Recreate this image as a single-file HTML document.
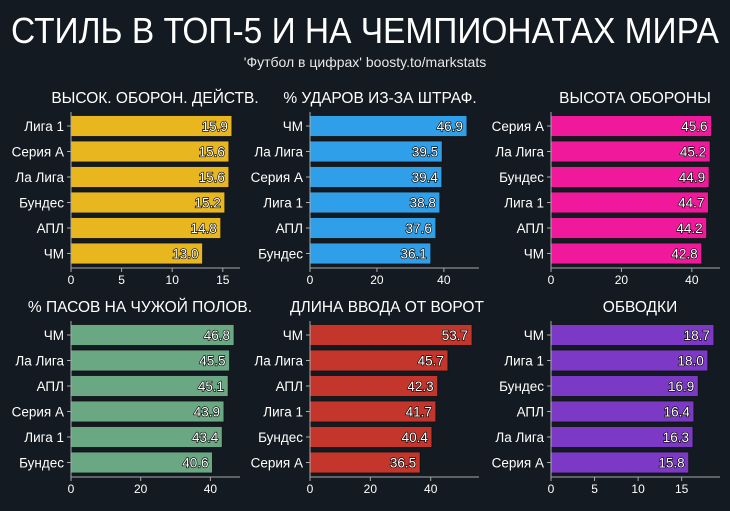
<!DOCTYPE html>
<html><head><meta charset="utf-8"><style>
body{margin:0;background:#131a21;}
svg{display:block;font-family:"Liberation Sans","DejaVu Sans",sans-serif;}
</style></head><body>
<svg id="c" width="730" height="511" viewBox="0 0 730 511">
<rect width="730" height="511" fill="#131a21"/>
<text x="365" y="43" text-anchor="middle" font-size="36" fill="#fff" textLength="708" lengthAdjust="spacingAndGlyphs">СТИЛЬ В ТОП-5 И НА ЧЕМПИОНАТАХ МИРА</text>
<text x="365" y="67" text-anchor="middle" font-size="14" fill="#e8e8e8">'Футбол в цифрах' boosty.to/markstats</text>
</svg>
<script>
const titles=["ВЫСОК. ОБОРОН. ДЕЙСТВ.","% УДАРОВ ИЗ-ЗА ШТРАФ.","ВЫСОТА ОБОРОНЫ","% ПАСОВ НА ЧУЖОЙ ПОЛОВ.","ДЛИНА ВВОДА ОТ ВОРОТ","ОБВОДКИ"];
const cats1=["Лига 1","Серия А","Ла Лига","Бундес","АПЛ","ЧМ"];
const vals1=[15.9,15.6,15.6,15.2,14.8,13.0];
const cats2=["ЧМ","Ла Лига","Серия А","Лига 1","АПЛ","Бундес"];
const vals2=[46.9,39.5,39.4,38.8,37.6,36.1];
const cats3=["Серия А","Ла Лига","Бундес","Лига 1","АПЛ","ЧМ"];
const vals3=[45.6,45.2,44.9,44.7,44.2,42.8];
const cats4=["ЧМ","Ла Лига","АПЛ","Серия А","Лига 1","Бундес"];
const vals4=[46.8,45.5,45.1,43.9,43.4,40.6];
const cats5=["ЧМ","Ла Лига","АПЛ","Лига 1","Бундес","Серия А"];
const vals5=[53.7,45.7,42.3,41.7,40.4,36.5];
const cats6=["ЧМ","Лига 1","Бундес","АПЛ","Ла Лига","Серия А"];
const vals6=[18.7,18.0,16.9,16.4,16.3,15.8];
const ticks1=[0,5,10,15], ticks2=[0,20,40], ticks3=[0,20,40], ticks4=[0,20,40], ticks5=[0,20,40], ticks6=[0,5,10,15];
const xmax=[16.7,50.5,48,48.5,56,19.4];
const cats=[cats1,cats2,cats3,cats4,cats5,cats6];
const vals=[vals1,vals2,vals3,vals4,vals5,vals6];
const ticks=[ticks1,ticks2,ticks3,ticks4,ticks5,ticks6];
const colors=["#e8b71f","#2f9fe9","#f0189b","#6aa783","#c4352b","#7b39c6"];
const titleX=[155,380,635,140,387,640];
const svg=document.getElementById('c');
const NS="http://www.w3.org/2000/svg";
function mk(t,a,p){const e=document.createElementNS(NS,t);for(const k in a)e.setAttribute(k,a[k]);(p||svg).appendChild(e);return e;}
const colX=[71,310,551], rowTop=[114,323], W=[170,170,170];
for(let p=0;p<6;p++){
  const col=p%3,row=Math.floor(p/3);
  const x0=colX[col], x1=x0+W[col]-1;
  const sx=v=>x0+v/xmax[p]*(x1-x0);
  const y0=rowTop[row], step=25.5, bh=21;
  const yc=i=>y0+12+i*step;
  const yAxis=y0+154;
  const g=mk('g',{});
  
  
  const t=mk('text',{x:titleX[p],y:y0-11,'text-anchor':'middle','font-size':15.5,fill:'#fff'},g);
  t.textContent=titles[p];
  
  
  vals[p].forEach((v,i)=>{
    const r=mk('rect',{x:x0,y:yc(i)-bh/2,width:sx(v)-x0,height:bh,fill:colors[p],stroke:'#111',"stroke-width":0.8},g);
    
    
    const vt=mk('text',{x:sx(v)-4,y:yc(i)+5,'text-anchor':'end','font-size':13.5,fill:'#fff',stroke:'#000','stroke-width':1.3,'paint-order':'stroke'},g);
    vt.textContent=v.toFixed(1);
    
    
    const ct=mk('text',{x:x0-7,y:yc(i)+5,'text-anchor':'end','font-size':13.5,fill:'#fff'},g);
    ct.textContent=cats[p][i];
    
    
    mk('line',{x1:x0-4,x2:x0,y1:yc(i),y2:yc(i),stroke:'#aaa'},g);
  });
  const ax=mk('line',{x1:x0,x2:x0,y1:y0-2,y2:yAxis,stroke:'#aaa','stroke-width':1},g);
  
  
  const bx=mk('line',{x1:x0,x2:x1,y1:yAxis,y2:yAxis,stroke:'#aaa','stroke-width':1},g);
  
  
  ticks[p].forEach(tv=>{
    mk('line',{x1:sx(tv),x2:sx(tv),y1:yAxis,y2:yAxis+4,stroke:'#aaa'},g);
    const tt=mk('text',{x:sx(tv),y:yAxis+16,'text-anchor':'middle','font-size':12,fill:'#fff'},g);
    tt.textContent=tv;
    
    
  });
}
</script>
</body></html>
